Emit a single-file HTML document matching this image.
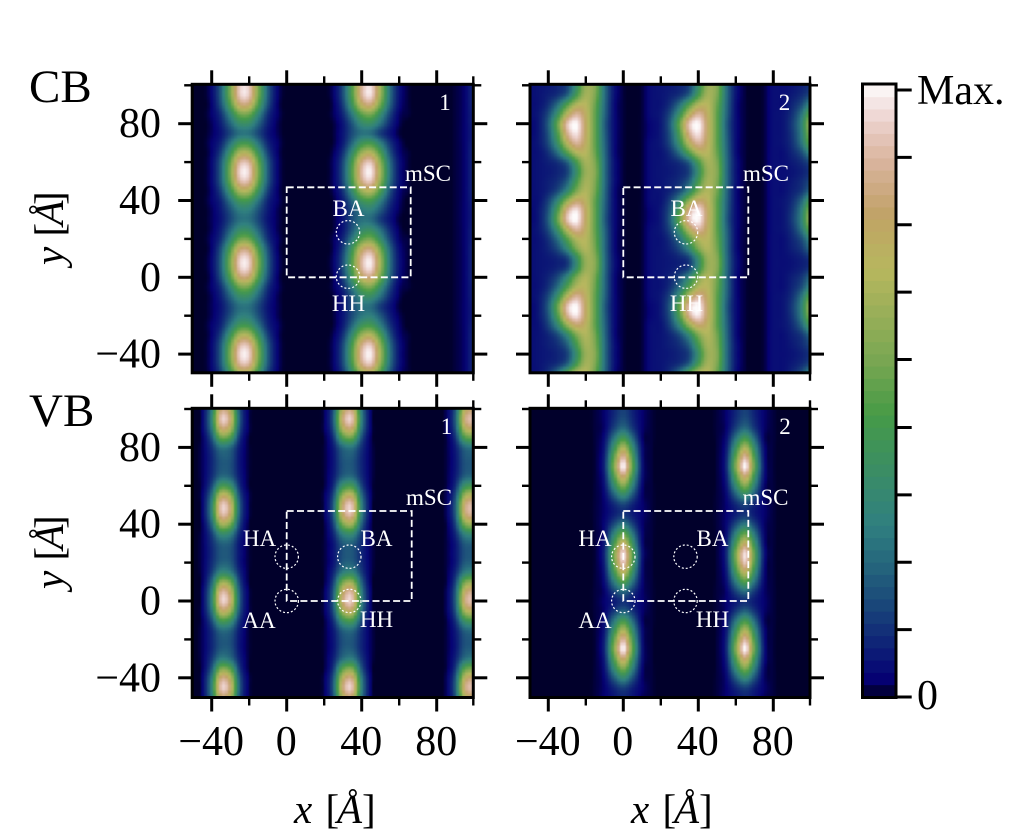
<!DOCTYPE html>
<html lang="en"><head><meta charset="utf-8"><title>CB and VB density maps</title>
<style>
html,body{margin:0;padding:0;background:#fff;}
svg{display:block;}
text{font-family:"Liberation Serif","DejaVu Serif",serif;}
.tick{font-size:42px;fill:#000;}
.axl{font-size:41px;fill:#000;}
.ann{font-size:23px;fill:#fff;text-anchor:middle;}
.band{font-size:47px;fill:#000;}
.box{fill:none;stroke:#fff;stroke-width:1.8;stroke-dasharray:7 3.3;}
.site{fill:none;stroke:#fff;stroke-width:1.2;stroke-dasharray:2 2;}
</style></head>
<body>
<svg id="figure" xmlns="http://www.w3.org/2000/svg" width="1012" height="840" viewBox="0 0 1012 840">
<defs>
<filter id="soft" filterUnits="userSpaceOnUse" x="100" y="0" width="800" height="800" color-interpolation-filters="sRGB"><feGaussianBlur stdDeviation="0.9"/></filter>
</defs>
<g id="plots"></g>
<g id="overlay">
<g>
<rect class="box" x="286.7" y="187.3" width="124" height="90"/>
<circle class="site" cx="348" cy="232.3" r="11.7"/>
<circle class="site" cx="348" cy="276.7" r="11.7"/>
<text class="ann" x="428" y="181">mSC</text>
<text class="ann" x="348.5" y="216">BA</text>
<text class="ann" x="348.5" y="311">HH</text>
<text class="ann" x="445" y="110">1</text>
</g>
<g>
<rect class="box" x="623.3" y="187.3" width="125" height="90"/>
<circle class="site" cx="686" cy="232.3" r="11.7"/>
<circle class="site" cx="686" cy="276.7" r="11.7"/>
<text class="ann" x="766" y="181">mSC</text>
<text class="ann" x="686.5" y="216">BA</text>
<text class="ann" x="686.5" y="311">HH</text>
<text class="ann" x="784.5" y="110">2</text>
</g>
<g>
<rect class="box" x="286.7" y="511" width="125" height="90"/>
<circle class="site" cx="286.7" cy="556.7" r="11.7"/>
<circle class="site" cx="349.3" cy="556.7" r="11.7"/>
<circle class="site" cx="286.7" cy="601" r="11.7"/>
<circle class="site" cx="349.3" cy="601" r="11.7"/>
<text class="ann" x="429" y="505">mSC</text>
<text class="ann" x="259.5" y="546">HA</text>
<text class="ann" x="376.5" y="546">BA</text>
<text class="ann" x="259" y="628">AA</text>
<text class="ann" x="376.5" y="627">HH</text>
<text class="ann" x="446.5" y="434">1</text>
</g>
<g>
<rect class="box" x="623.3" y="511" width="125" height="90"/>
<circle class="site" cx="623.3" cy="556.7" r="11.7"/>
<circle class="site" cx="685.5" cy="556.7" r="11.7"/>
<circle class="site" cx="623.3" cy="601" r="11.7"/>
<circle class="site" cx="685.5" cy="601" r="11.7"/>
<text class="ann" x="765.5" y="505">mSC</text>
<text class="ann" x="595" y="546">HA</text>
<text class="ann" x="712.5" y="546">BA</text>
<text class="ann" x="595" y="628">AA</text>
<text class="ann" x="712.5" y="627">HH</text>
<text class="ann" x="785" y="434">2</text>
</g>
</g>
<text class="band" x="29" y="102">CB</text>
<text class="band" x="29" y="426">VB</text>
<text class="axl" transform="translate(63,265) rotate(-90)"><tspan x="0" font-style="italic">y</tspan><tspan x="28.5">[</tspan><tspan x="39.5" font-style="italic">Å</tspan><tspan x="60">]</tspan></text>
<text class="axl" transform="translate(63,589) rotate(-90)"><tspan x="0" font-style="italic">y</tspan><tspan x="28.5">[</tspan><tspan x="39.5" font-style="italic">Å</tspan><tspan x="60">]</tspan></text>
<text class="axl" y="823"><tspan x="294" font-style="italic">x</tspan><tspan x="325.5">[</tspan><tspan x="337" font-style="italic">Å</tspan><tspan x="362">]</tspan></text>
<text class="axl" y="823"><tspan x="631" font-style="italic">x</tspan><tspan x="662.5">[</tspan><tspan x="674" font-style="italic">Å</tspan><tspan x="699">]</tspan></text>
<g id="cbar"></g>
<text class="tick" x="917" y="104">Max.</text>
<text class="tick" x="917" y="709">0</text>
</svg>
<script>
const gridX = [-50,-45,-40,-35,-30,-25,-20,-15,-10,-5,0,5,10,15,20,25,30,35,40,45,50,55,60,65,70,75,80,85,90,95,100];
const gridY = [100,95,90,85,80,75,70,65,60,55,50,45,40,35,30,25,20,15,10,5,0,-5,-10,-15,-20,-25,-30,-35,-40,-45,-50];
const majorTicks = [-40,0,40,80];
const minorTicks = [-20,20,60,100];
const colorbarTicks = [0,0.111,0.222,0.333,0.444,0.556,0.667,0.778,0.889,1];
const cb1Values = [
[0,0,4,20,55,92,92,55,20,4,0,0,0,0,0,3,16,47,86,96,64,25,6,1,0,0,0,0,1,3,10],
[0,0,4,20,55,92,92,55,20,4,0,0,0,0,0,3,16,47,86,96,64,25,6,1,0,0,0,0,1,3,10],
[0,0,3,17,46,78,78,46,17,3,0,0,0,0,0,2,13,40,73,81,54,22,5,1,0,0,0,0,1,3,10],
[0,0,3,11,31,53,53,31,11,3,0,0,0,0,0,2,9,27,49,55,36,15,3,1,0,0,0,0,1,3,9],
[0,0,2,8,21,35,35,21,8,2,0,0,0,0,0,1,6,18,33,36,24,10,2,0,0,0,0,0,1,3,9],
[0,0,2,6,15,24,24,15,6,2,0,0,0,0,0,1,6,16,24,23,13,6,1,0,0,0,0,0,1,3,8],
[0,0,3,9,25,42,42,25,9,3,0,0,0,0,0,1,7,22,40,44,29,12,3,0,0,0,0,0,1,3,9],
[0,0,3,14,39,66,66,39,14,3,0,0,0,0,0,2,11,34,62,69,46,18,4,1,0,0,0,0,1,3,10],
[0,0,4,19,52,87,87,52,19,4,0,0,0,0,0,3,15,45,82,91,60,24,6,1,0,0,0,0,1,3,10],
[0,0,4,20,56,94,94,56,20,4,0,0,0,0,0,3,16,48,88,98,65,26,6,1,0,0,0,0,1,3,10],
[0,0,4,19,52,87,87,52,19,4,0,0,0,0,0,3,15,45,82,91,60,24,6,1,0,0,0,0,1,3,10],
[0,0,3,14,39,66,66,39,14,3,0,0,0,0,0,2,11,34,62,69,46,18,4,1,0,0,0,0,1,3,10],
[0,0,3,9,25,42,42,25,9,3,0,0,0,0,0,1,7,22,40,44,29,12,3,0,0,0,0,0,1,3,9],
[0,0,2,7,17,28,28,17,7,2,0,0,0,0,0,1,6,16,26,29,19,8,2,0,0,0,0,0,1,3,8],
[0,0,2,6,15,24,24,15,6,2,0,0,0,0,0,1,6,16,24,23,13,6,1,0,0,0,0,0,1,3,8],
[0,0,2,8,21,35,35,21,8,2,0,0,0,0,0,1,6,18,33,36,24,10,2,0,0,0,0,0,1,3,9],
[0,0,3,11,31,53,53,31,11,3,0,0,0,0,0,2,9,27,49,55,36,15,3,1,0,0,0,0,1,3,9],
[0,0,3,17,46,78,78,46,17,3,0,0,0,0,0,2,13,40,73,81,54,22,5,1,0,0,0,0,1,3,10],
[0,0,4,20,55,92,92,55,20,4,0,0,0,0,0,3,16,47,86,96,64,25,6,1,0,0,0,0,1,3,10],
[0,0,4,20,55,92,92,55,20,4,0,0,0,0,0,3,16,47,86,96,64,25,6,1,0,0,0,0,1,3,10],
[0,0,3,17,46,78,78,46,17,3,0,0,0,0,0,2,13,40,73,81,54,22,5,1,0,0,0,0,1,3,10],
[0,0,3,11,31,53,53,31,11,3,0,0,0,0,0,2,9,27,49,55,36,15,3,1,0,0,0,0,1,3,9],
[0,0,2,8,21,35,35,21,8,2,0,0,0,0,0,1,6,18,33,36,24,10,2,0,0,0,0,0,1,3,9],
[0,0,2,6,15,24,24,15,6,2,0,0,0,0,0,1,6,16,24,23,13,6,1,0,0,0,0,0,1,3,8],
[0,0,2,7,17,28,28,17,7,2,0,0,0,0,0,1,6,16,26,29,19,8,2,0,0,0,0,0,1,3,8],
[0,0,3,9,25,42,42,25,9,3,0,0,0,0,0,1,7,22,40,44,29,12,3,0,0,0,0,0,1,3,9],
[0,0,3,14,39,66,66,39,14,3,0,0,0,0,0,2,11,34,62,69,46,18,4,1,0,0,0,0,1,3,10],
[0,0,4,19,52,87,87,52,19,4,0,0,0,0,0,3,15,45,82,91,60,24,6,1,0,0,0,0,1,3,10],
[0,0,4,20,56,94,94,56,20,4,0,0,0,0,0,3,16,48,88,98,65,26,6,1,0,0,0,0,1,3,10],
[0,0,4,19,52,87,87,52,19,4,0,0,0,0,0,3,15,45,82,91,60,24,6,1,0,0,0,0,1,3,10],
[0,0,3,14,39,66,66,39,14,3,0,0,0,0,0,2,11,34,62,69,46,18,4,1,0,0,0,0,1,3,10]
];
const cb2Values = [
[5,6,7,9,14,36,62,58,24,6,1,0,1,5,6,7,9,14,36,62,58,24,6,1,0,1,5,5,6,8,11],
[5,6,8,11,20,44,65,56,24,6,1,0,1,5,6,8,11,20,44,65,56,24,6,1,0,1,5,5,7,10,15],
[5,6,11,24,47,68,70,52,23,5,1,0,1,5,6,11,24,47,68,70,52,23,5,1,0,1,5,5,9,16,32],
[5,7,16,38,70,87,74,50,22,5,1,0,1,5,7,16,38,70,87,74,50,22,5,1,0,1,5,6,11,25,52],
[4,7,20,52,90,100,76,50,20,5,1,0,1,4,7,20,52,90,100,76,50,20,5,1,0,1,5,6,13,30,65],
[4,7,18,46,84,97,76,50,21,5,1,0,1,4,7,18,46,84,97,76,50,21,5,1,0,1,5,6,12,28,60],
[5,7,16,38,70,87,74,50,22,5,1,0,1,5,7,16,38,70,87,74,50,22,5,1,0,1,5,6,11,25,52],
[5,6,11,24,47,68,70,52,23,5,1,0,1,5,6,11,24,47,68,70,52,23,5,1,0,1,5,5,9,16,32],
[5,6,8,11,20,44,65,56,24,6,1,0,1,5,6,8,11,20,44,65,56,24,6,1,0,1,5,5,7,10,15],
[5,6,7,9,14,36,62,58,24,6,1,0,1,5,6,7,9,14,36,62,58,24,6,1,0,1,5,5,6,8,11],
[5,6,8,11,20,44,65,56,24,6,1,0,1,5,6,8,11,20,44,65,56,24,6,1,0,1,5,5,7,10,15],
[5,6,9,16,32,56,68,54,23,5,1,0,1,5,6,9,16,32,56,68,54,23,5,1,0,1,5,5,8,12,22],
[5,6,14,32,60,78,72,50,22,5,1,0,1,5,6,14,32,60,78,72,50,22,5,1,0,1,5,6,10,21,44],
[4,7,18,46,84,97,76,50,21,5,1,0,1,4,7,18,46,84,97,76,50,21,5,1,0,1,5,6,12,28,60],
[4,7,20,52,90,100,76,50,20,5,1,0,1,4,7,20,52,90,100,76,50,20,5,1,0,1,5,6,13,30,65],
[5,7,16,38,70,87,74,50,22,5,1,0,1,5,7,16,38,70,87,74,50,22,5,1,0,1,5,6,11,25,52],
[5,6,11,24,47,68,70,52,23,5,1,0,1,5,6,11,24,47,68,70,52,23,5,1,0,1,5,5,9,16,32],
[5,6,9,16,32,56,68,54,23,5,1,0,1,5,6,9,16,32,56,68,54,23,5,1,0,1,5,5,8,12,22],
[5,6,7,9,14,36,62,58,24,6,1,0,1,5,6,7,9,14,36,62,58,24,6,1,0,1,5,5,6,8,11],
[5,6,7,9,14,36,62,58,24,6,1,0,1,5,6,7,9,14,36,62,58,24,6,1,0,1,5,5,6,8,11],
[5,6,9,16,32,56,68,54,23,5,1,0,1,5,6,9,16,32,56,68,54,23,5,1,0,1,5,5,8,12,22],
[5,6,11,24,47,68,70,52,23,5,1,0,1,5,6,11,24,47,68,70,52,23,5,1,0,1,5,5,9,16,32],
[5,7,16,38,70,87,74,50,22,5,1,0,1,5,7,16,38,70,87,74,50,22,5,1,0,1,5,6,11,25,52],
[4,7,20,52,90,100,76,50,20,5,1,0,1,4,7,20,52,90,100,76,50,20,5,1,0,1,5,6,13,30,65],
[4,7,18,46,84,97,76,50,21,5,1,0,1,4,7,18,46,84,97,76,50,21,5,1,0,1,5,6,12,28,60],
[5,6,14,32,60,78,72,50,22,5,1,0,1,5,6,14,32,60,78,72,50,22,5,1,0,1,5,6,10,21,44],
[5,6,9,16,32,56,68,54,23,5,1,0,1,5,6,9,16,32,56,68,54,23,5,1,0,1,5,5,8,12,22],
[5,6,8,11,20,44,65,56,24,6,1,0,1,5,6,8,11,20,44,65,56,24,6,1,0,1,5,5,7,10,15],
[5,6,7,9,14,36,62,58,24,6,1,0,1,5,6,7,9,14,36,62,58,24,6,1,0,1,5,5,6,8,11],
[5,6,8,11,20,44,65,56,24,6,1,0,1,5,6,8,11,20,44,65,56,24,6,1,0,1,5,5,7,10,15],
[5,6,11,24,47,68,70,52,23,5,1,0,1,5,6,11,24,47,68,70,52,23,5,1,0,1,5,5,9,16,32]
];
const vb1Values = [
[0,3,27,81,71,18,2,0,0,0,0,0,0,0,2,18,71,81,27,3,0,0,0,0,0,0,0,2,18,71,81],
[0,3,30,91,80,20,2,0,0,0,0,0,0,0,2,20,80,91,30,3,0,0,0,0,0,0,0,2,20,80,91],
[0,3,26,78,69,17,2,0,0,0,0,0,0,0,2,17,69,78,26,3,0,0,0,0,0,0,0,2,17,69,78],
[0,2,17,51,45,11,1,0,0,0,0,0,0,0,1,11,45,51,17,2,0,0,0,0,0,0,0,1,11,45,51],
[0,2,11,25,22,7,1,0,0,0,0,0,0,0,1,7,22,25,11,2,0,0,0,0,0,0,0,1,7,22,25],
[0,2,9,19,18,6,1,0,0,0,0,0,0,0,1,6,18,19,9,2,0,0,0,0,0,0,0,1,6,18,19],
[0,2,9,18,17,6,1,0,0,0,0,0,0,0,1,6,17,18,9,2,0,0,0,0,0,0,0,1,6,17,18],
[0,2,10,22,20,7,1,0,0,0,0,0,0,0,1,7,20,22,10,2,0,0,0,0,0,0,0,1,7,20,22],
[0,2,15,43,38,10,1,0,0,0,0,0,0,0,1,10,38,43,15,2,0,0,0,0,0,0,0,1,10,38,43],
[0,3,24,72,63,16,2,0,0,0,0,0,0,0,2,16,63,72,24,3,0,0,0,0,0,0,0,2,16,63,72],
[0,3,30,90,79,20,2,0,0,0,0,0,0,0,2,20,79,90,30,3,0,0,0,0,0,0,0,2,20,79,90],
[0,3,29,86,76,19,2,0,0,0,0,0,0,0,2,19,76,86,29,3,0,0,0,0,0,0,0,2,19,76,86],
[0,2,21,63,55,14,1,0,0,0,0,0,0,0,1,14,55,63,21,2,0,0,0,0,0,0,0,1,14,55,63],
[0,2,13,34,30,9,1,0,0,0,0,0,0,0,1,9,30,34,13,2,0,0,0,0,0,0,0,1,9,30,34],
[0,2,10,20,19,6,1,0,0,0,0,0,0,0,1,6,19,20,10,2,0,0,0,0,0,0,0,1,6,19,20],
[0,2,9,18,17,6,1,0,0,0,0,0,0,0,1,6,17,18,9,2,0,0,0,0,0,0,0,1,6,17,18],
[0,2,10,20,19,6,1,0,0,0,0,0,0,0,1,6,19,20,10,2,0,0,0,0,0,0,0,1,6,19,20],
[0,2,13,32,28,9,1,0,0,0,0,0,0,0,1,9,28,32,13,2,0,0,0,0,0,0,0,1,9,28,32],
[0,2,21,61,54,14,1,0,0,0,0,0,0,0,1,14,54,61,21,2,0,0,0,0,0,0,0,1,14,54,61],
[0,3,28,85,74,19,2,0,0,0,0,0,0,0,2,19,74,85,28,3,0,0,0,0,0,0,0,2,19,74,85],
[0,3,30,91,80,20,2,0,0,0,0,0,0,0,2,20,80,91,30,3,0,0,0,0,0,0,0,2,20,80,91],
[0,3,25,74,65,17,2,0,0,0,0,0,0,0,2,17,65,74,25,3,0,0,0,0,0,0,0,2,17,65,74],
[0,2,16,45,39,11,1,0,0,0,0,0,0,0,1,11,39,45,16,2,0,0,0,0,0,0,0,1,11,39,45],
[0,2,10,23,21,7,1,0,0,0,0,0,0,0,1,7,21,23,10,2,0,0,0,0,0,0,0,1,7,21,23],
[0,2,9,18,17,6,1,0,0,0,0,0,0,0,1,6,17,18,9,2,0,0,0,0,0,0,0,1,6,17,18],
[0,2,9,19,18,6,1,0,0,0,0,0,0,0,1,6,18,19,9,2,0,0,0,0,0,0,0,1,6,18,19],
[0,2,12,28,24,8,1,0,0,0,0,0,0,0,1,8,24,28,12,2,0,0,0,0,0,0,0,1,8,24,28],
[0,2,18,55,48,12,1,0,0,0,0,0,0,0,1,12,48,55,18,2,0,0,0,0,0,0,0,1,12,48,55],
[0,3,27,81,71,18,2,0,0,0,0,0,0,0,2,18,71,81,27,3,0,0,0,0,0,0,0,2,18,71,81],
[0,3,30,91,80,20,2,0,0,0,0,0,0,0,2,20,80,91,30,3,0,0,0,0,0,0,0,2,20,80,91],
[0,3,26,78,69,17,2,0,0,0,0,0,0,0,2,17,69,78,26,3,0,0,0,0,0,0,0,2,17,69,78]
];
const vb2Values = [
[0,0,0,0,0,0,0,1,3,9,14,8,3,1,0,0,0,0,0,0,1,3,9,14,8,3,1,0,0,0,0],
[0,0,0,0,0,0,0,1,3,10,16,9,3,1,0,0,0,0,0,0,1,3,10,16,9,3,1,0,0,0,0],
[0,0,0,0,0,0,0,1,3,14,23,12,3,1,0,0,0,0,0,0,1,3,14,23,12,3,1,0,0,0,0],
[0,0,0,0,0,0,0,1,5,25,43,22,3,1,0,0,0,0,0,0,1,5,25,43,22,3,1,0,0,0,0],
[0,0,0,0,0,0,0,1,7,38,67,34,5,1,0,0,0,0,0,0,1,7,38,67,34,5,1,0,0,0,0],
[0,0,0,0,0,0,0,1,9,50,88,44,6,1,0,0,0,0,0,0,1,9,50,88,44,6,1,0,0,0,0],
[0,0,0,0,0,0,0,1,10,57,100,50,7,1,0,0,0,0,0,0,1,10,57,100,50,7,1,0,0,0,0],
[0,0,0,0,0,0,0,1,8,46,80,40,6,1,0,0,0,0,0,0,1,8,46,80,40,6,1,0,0,0,0],
[0,0,0,0,0,0,0,1,6,33,57,29,4,1,0,0,0,0,0,0,1,6,33,57,29,4,1,0,0,0,0],
[0,0,0,0,0,0,0,1,4,19,33,17,3,1,0,0,0,0,0,0,1,4,19,33,17,3,1,0,0,0,0],
[0,0,0,0,0,0,0,1,3,9,14,8,3,1,0,0,0,0,0,0,1,3,9,14,8,3,1,0,0,0,0],
[0,0,0,0,0,0,0,1,3,8,12,7,3,1,0,0,0,0,0,0,1,3,8,12,7,3,1,0,0,0,0],
[0,0,0,0,0,0,0,1,4,16,27,14,3,1,0,0,0,0,0,0,1,4,16,27,14,3,1,0,0,0,0],
[0,0,0,0,0,0,0,1,5,30,52,26,4,1,0,0,0,0,0,0,1,5,30,52,26,4,1,0,0,0,0],
[0,0,0,0,0,0,0,1,8,43,76,38,5,1,0,0,0,0,0,0,1,8,43,76,38,5,1,0,0,0,0],
[0,0,0,0,0,0,0,1,10,55,96,48,7,1,0,0,0,0,0,0,1,10,55,96,48,7,1,0,0,0,0],
[0,0,0,0,0,0,0,1,9,52,92,46,6,1,0,0,0,0,0,0,1,9,52,92,46,6,1,0,0,0,0],
[0,0,0,0,0,0,0,1,7,41,72,36,5,1,0,0,0,0,0,0,1,7,41,72,36,5,1,0,0,0,0],
[0,0,0,0,0,0,0,1,5,27,47,24,4,1,0,0,0,0,0,0,1,5,27,47,24,4,1,0,0,0,0],
[0,0,0,0,0,0,0,1,3,14,23,12,3,1,0,0,0,0,0,0,1,3,14,23,12,3,1,0,0,0,0],
[0,0,0,0,0,0,0,1,3,7,11,7,3,1,0,0,0,0,0,0,1,3,7,11,7,3,1,0,0,0,0],
[0,0,0,0,0,0,0,1,3,12,20,11,3,1,0,0,0,0,0,0,1,3,12,20,11,3,1,0,0,0,0],
[0,0,0,0,0,0,0,1,5,25,43,22,3,1,0,0,0,0,0,0,1,5,25,43,22,3,1,0,0,0,0],
[0,0,0,0,0,0,0,1,7,38,67,34,5,1,0,0,0,0,0,0,1,7,38,67,34,5,1,0,0,0,0],
[0,0,0,0,0,0,0,1,9,50,88,44,6,1,0,0,0,0,0,0,1,9,50,88,44,6,1,0,0,0,0],
[0,0,0,0,0,0,0,1,10,57,100,50,7,1,0,0,0,0,0,0,1,10,57,100,50,7,1,0,0,0,0],
[0,0,0,0,0,0,0,1,8,46,80,40,6,1,0,0,0,0,0,0,1,8,46,80,40,6,1,0,0,0,0],
[0,0,0,0,0,0,0,1,6,33,57,29,4,1,0,0,0,0,0,0,1,6,33,57,29,4,1,0,0,0,0],
[0,0,0,0,0,0,0,1,4,19,33,17,3,1,0,0,0,0,0,0,1,4,19,33,17,3,1,0,0,0,0],
[0,0,0,0,0,0,0,1,3,9,14,8,3,1,0,0,0,0,0,0,1,3,9,14,8,3,1,0,0,0,0],
[0,0,0,0,0,0,0,1,3,6,9,6,2,1,0,0,0,0,0,0,1,3,6,9,6,2,1,0,0,0,0]
];

const NS = 'http://www.w3.org/2000/svg';
const X_SCALE = 1.875, Y_SCALE = 1.92, MAJOR = 14, MINOR = 8, CELL_PX = 3;
const redStops = [[0,0],[0.2824,0.1882],[0.4588,0.2714],[0.549,0.4719],[0.698,0.7176],[0.7882,0.7553],[1,0.9922]];
const greenStops = [[0,0],[0.0275,0],[0.1098,0.1893],[0.1647,0.3035],[0.2078,0.3841],[0.2824,0.502],[0.5216,0.6397],[0.698,0.7171],[0.7882,0.6392],[0.8157,0.6549],[0.8667,0.6991],[0.898,0.743],[0.9412,0.8275],[0.9647,0.8816],[1,0.9843]];
const blueStops = [[0,0],[0.0039,0.1684],[0.0078,0.2212],[0.0275,0.4329],[0.0314,0.4549],[0.2824,0.5004],[0.4667,0.2748],[0.5451,0.3205],[0.7843,0.3961],[0.8941,0.6651],[1,0.9843]];

function lookup(stops, t){
  for(let i=1;i<stops.length;i++){
    if(t<=stops[i][0]){
      const a=stops[i-1], b=stops[i];
      return a[1]+(b[1]-a[1])*(t-a[0])/(b[0]-a[0]);
    }
  }
  return stops[stops.length-1][1];
}
function colorOf(v){
  const t=Math.min(1,Math.max(0.004,v));
  const c=[redStops,greenStops,blueStops].map(function(s){return Math.round(255*lookup(s,t));});
  return 'rgb('+c.join(',')+')';
}
function cubic(a,b,c,d,t){
  return b+0.5*t*(c-a+t*(2*a-5*b+4*c-d+t*(3*(b-c)+d-a)));
}
function clampIndex(i,n){return Math.max(0,Math.min(n-1,i));}
function sampleGrid(values,x,y){
  const u=Math.max(0,Math.min(gridX.length-1,(x-gridX[0])/(gridX[1]-gridX[0])));
  const v=Math.max(0,Math.min(gridY.length-1,(y-gridY[0])/(gridY[1]-gridY[0])));
  const i=Math.floor(u), j=Math.floor(v), fu=u-i, fv=v-j;
  const col=[];
  for(let m=-1;m<=2;m++){
    const r=values[clampIndex(j+m,gridY.length)];
    col.push(cubic(r[clampIndex(i-1,gridX.length)],r[clampIndex(i,gridX.length)],r[clampIndex(i+1,gridX.length)],r[clampIndex(i+2,gridX.length)],fu));
  }
  return cubic(col[0],col[1],col[2],col[3],fv);
}
function make(tag, parent){
  const el=document.createElementNS(NS,tag);
  parent.appendChild(el);
  return el;
}
function line(parent,x1,y1,x2,y2,w,name){
  const el=make('line',parent);
  el.setAttribute('x1',x1);el.setAttribute('y1',y1);el.setAttribute('x2',x2);el.setAttribute('y2',y2);
  el.setAttribute('stroke','#000');el.setAttribute('stroke-width',w);
  
  
  return el;
}
function tickText(parent,x,y,anchor,value,name){
  const el=make('text',parent);
  el.setAttribute('class','tick');el.setAttribute('x',x);el.setAttribute('y',y);el.setAttribute('text-anchor',anchor);
  el.textContent=String(value).replace('-','\u2212');
  
  
}

const panels=[
  {id:'cb-1',values:cb1Values,x0:286.7,y0:277.3,l:192.2,r:473.3,t:84.3,b:372.8,xlab:false,ylab:true},
  {id:'cb-2',values:cb2Values,x0:623.3,y0:277.3,l:530,r:810,t:84.3,b:372.8,xlab:false,ylab:false},
  {id:'vb-1',values:vb1Values,x0:286.7,y0:601,l:192.2,r:473.3,t:408.3,b:697.5,xlab:true,ylab:true},
  {id:'vb-2',values:vb2Values,x0:623.3,y0:601,l:530,r:810,t:408.3,b:697.5,xlab:true,ylab:false}
];
const root=document.getElementById('plots');
const defs=document.querySelector('defs');
panels.forEach(function(p){
  const xp=function(x){return p.x0+X_SCALE*x;};
  const yp=function(y){return p.y0-Y_SCALE*y;};
  const g=make('g',root);
  
  
  const clip=make('clipPath',defs);
  clip.setAttribute('id','clip-'+p.id);
  const cr=make('rect',clip);
  cr.setAttribute('x',p.l);cr.setAttribute('y',p.t);cr.setAttribute('width',p.r-p.l);cr.setAttribute('height',p.b-p.t);
  const outer=make('g',g);
  outer.setAttribute('clip-path','url(#clip-'+p.id+')');
  
  
  const cells=make('g',outer);
  cells.setAttribute('filter','url(#soft)');
  cells.setAttribute('shape-rendering','crispEdges');
  
  
  for(let py=p.t-6;py<p.b+6;py+=CELL_PX){
    for(let px=p.l-6;px<p.r+6;px+=CELL_PX){
      const x=(px+CELL_PX/2-p.x0)/X_SCALE;
      const y=(p.y0-py-CELL_PX/2)/Y_SCALE;
      const c=make('rect',cells);
      c.setAttribute('x',px.toFixed(1));
      c.setAttribute('y',py.toFixed(1));
      c.setAttribute('width',CELL_PX+0.2);
      c.setAttribute('height',CELL_PX+0.2);
      c.setAttribute('fill',colorOf(sampleGrid(p.values,x,y)/100));
      
      
    }
  }
  const spine=make('rect',g);
  spine.setAttribute('x',p.l);spine.setAttribute('y',p.t);spine.setAttribute('width',p.r-p.l);spine.setAttribute('height',p.b-p.t);
  spine.setAttribute('fill','none');spine.setAttribute('stroke','#000');spine.setAttribute('stroke-width','3');
  
  
  majorTicks.forEach(function(v){
    line(g,xp(v),p.t,xp(v),p.t-MAJOR,3,'x-major-tick-top');
    line(g,xp(v),p.b,xp(v),p.b+MAJOR,3,'x-major-tick-bottom');
    line(g,p.l,yp(v),p.l-MAJOR,yp(v),3,'y-major-tick-left');
    line(g,p.r,yp(v),p.r+MAJOR,yp(v),3,'y-major-tick-right');
    if(p.xlab){tickText(g,xp(v)-0.5,755,'middle',v,'x-tick-label');}
    if(p.ylab&&v<100){tickText(g,161,yp(v)+13.5,'end',v,'y-tick-label');}
  });
  minorTicks.forEach(function(v){
    const tx=Math.min(xp(v),p.r), ty=Math.max(yp(v),p.t);
    line(g,tx,p.t,tx,p.t-MINOR,2.4,'x-minor-tick-top');
    line(g,tx,p.b,tx,p.b+MINOR,2.4,'x-minor-tick-bottom');
    line(g,p.l,ty,p.l-MINOR,ty,2.4,'y-minor-tick-left');
    line(g,p.r,ty,p.r+MINOR,ty,2.4,'y-minor-tick-right');
  });
});

const bar=document.getElementById('cbar');
const barL=863, barR=895.5, barTop=84.5, barBottom=697;
const LEVELS=50;
const maxTickY=90;
for(let i=0;i<LEVELS;i++){
  const hi=barBottom-(barBottom-barTop)*(i+1)/LEVELS;
  const lo=barBottom-(barBottom-barTop)*i/LEVELS;
  const s=make('rect',bar);
  s.setAttribute('x',barL);s.setAttribute('width',barR-barL);
  s.setAttribute('y',hi.toFixed(2));s.setAttribute('height',(lo-hi+0.4).toFixed(2));
  s.setAttribute('fill',colorOf((i+0.5)/LEVELS));
  
  
}
const barFrame=make('rect',bar);
barFrame.setAttribute('x',barL-0.5);barFrame.setAttribute('y',barTop-0.5);
barFrame.setAttribute('width',barR-barL+1);barFrame.setAttribute('height',barBottom-barTop+1);
barFrame.setAttribute('fill','none');barFrame.setAttribute('stroke','#000');barFrame.setAttribute('stroke-width','3');


colorbarTicks.forEach(function(v){
  const y=barBottom-(barBottom-maxTickY)*v;
  line(bar,barR+1,y,911.7,y,3,'colorbar-tick');
});
</script>
</body></html>
